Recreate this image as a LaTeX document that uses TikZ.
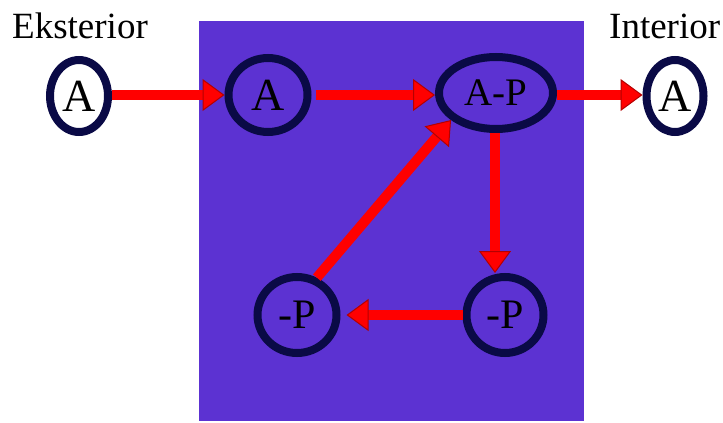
\documentclass[tikz,border=0pt]{standalone}
\usepackage{fontspec}
\setmainfont{Liberation Serif}
\usepackage{xcolor}
\usetikzlibrary{arrows.meta, positioning, shapes.geometric}

\definecolor{boxpurple}{RGB}{92,50,210}
\definecolor{ringnavy}{RGB}{10,10,70}
\definecolor{arrowedge}{RGB}{180,0,0}

\begin{document}
\begin{tikzpicture}[
  x=1pt, y=-1pt,
  state/.style={ellipse, draw=ringnavy, line width=8pt, inner sep=0pt},
  redarrow/.style={draw=red, line width=10pt,
    -{Triangle[length=22pt, width=32pt, fill=red, color=arrowedge, line width=1pt]}},
  label/.style={font=\fontsize{37}{40}\selectfont, inner sep=0pt, anchor=base west}
]
\useasboundingbox (0,0) rectangle (723,423);
\fill[boxpurple] (199,21) rectangle (584,421);

\node[label] (ekst) at (12,38) {Eksterior};
\node[label] (inter) at (609,38) {Interior};

\node[state, minimum width=58pt, minimum height=72pt, font=\fontsize{46}{46}\selectfont] (ea) at (79,96) {A};
\node[state, minimum width=79pt, minimum height=74pt, font=\fontsize{46}{46}\selectfont] (ia) at (268,95) {A};
\node[state, minimum width=114pt, minimum height=72pt, font=\fontsize{39}{39}\selectfont] (ap) at (496,93) {A-P};
\node[state, minimum width=57pt, minimum height=72pt, font=\fontsize{46}{46}\selectfont] (ta) at (675,96) {A};
\node[state, minimum width=79pt, minimum height=76pt, font=\fontsize{42}{42}\selectfont] (pl) at (297,315) {-P};
\node[state, minimum width=77pt, minimum height=76pt, font=\fontsize{42}{42}\selectfont] (pr) at (505,315) {-P};

\draw[redarrow] (ea.east |- 0,95) -- (ia.west |- 0,95);
\draw[redarrow] ([xshift=4pt]ia.east |- 0,95) -- (ap.west |- 0,95);
\draw[redarrow] (ap.east |- 0,95) -- (ta.west |- 0,95);
\draw[redarrow] (ap.south -| 495,0) -- (pr.north -| 495,0);
\draw[redarrow, shorten >=6pt] (pr.west) -- (pl.east);
\draw[redarrow] (pl.62) -- (ap.211);
\end{tikzpicture}
\end{document}
